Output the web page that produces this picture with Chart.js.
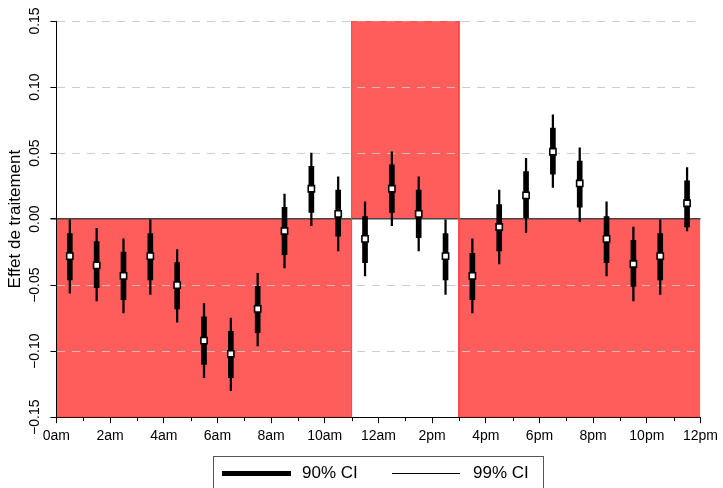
<!DOCTYPE html>
<html>
<head>
<meta charset="utf-8">
<script src="https://cdn.jsdelivr.net/npm/chart.js@4/dist/chart.umd.min.js"></script>
<style>
  body { margin: 0; background: #fff; overflow: hidden; font-family: "Liberation Sans", Arial, sans-serif; }
  #wrap { position: relative; width: 723px; height: 488px; }
  #legend { position: absolute; left: 213px; top: 456px; width: 329px; height: 44px; border: 1px solid #555; }
  #legend .line { position: absolute; background: #000; }
  #legend .txt { position: absolute; font-size: 17px; color: #000; line-height: 20px; }
</style>
</head>
<body>
<div id="wrap">
  <canvas id="chart" width="723" height="488"></canvas>
  <div id="legend">
    <div class="line" style="left:8px; top:14px; width:69px; height:5px;"></div>
    <div class="txt" style="left:88px; top:6px;">90% CI</div>
    <div class="line" style="left:178px; top:16px; width:68px; height:1.3px;"></div>
    <div class="txt" style="left:259px; top:6px;">99% CI</div>
  </div>
</div>
<script>
// hour of day (bin centres)
var hours = [0.5, 1.5, 2.5, 3.5, 4.5, 5.5, 6.5, 7.5, 8.5, 9.5, 10.5, 11.5,
             12.5, 13.5, 14.5, 15.5, 16.5, 17.5, 18.5, 19.5, 20.5, 21.5, 22.5, 23.5];

// point estimates
var estimate = [-0.028, -0.035, -0.043, -0.028, -0.050, -0.092, -0.102, -0.068, -0.009, 0.023, 0.004, -0.015,
                0.023, 0.004, -0.028, -0.043, -0.006, 0.018, 0.051, 0.027, -0.015, -0.034, -0.028, 0.012];

// 90% confidence intervals
var ci90Low  = [-0.046, -0.052, -0.061, -0.046, -0.068, -0.110, -0.120, -0.086, -0.027, 0.005, -0.013, -0.033,
                0.005, -0.014, -0.046, -0.061, -0.024, 0.001, 0.034, 0.009, -0.033, -0.051, -0.046, -0.006];
var ci90High = [-0.011, -0.017, -0.025, -0.011, -0.033, -0.074, -0.085, -0.051, 0.009, 0.040, 0.022, 0.002,
                0.041, 0.022, -0.011, -0.026, 0.011, 0.036, 0.069, 0.044, 0.002, -0.016, -0.011, 0.029];

// 99% confidence intervals
var ci99Low  = [-0.056, -0.062, -0.071, -0.057, -0.078, -0.120, -0.130, -0.096, -0.037, -0.005, -0.024, -0.043,
                -0.005, -0.024, -0.057, -0.071, -0.034, -0.010, 0.024, -0.002, -0.043, -0.062, -0.057, -0.009];
var ci99High = [0.000, -0.007, -0.015, 0.000, -0.023, -0.064, -0.075, -0.041, 0.019, 0.050, 0.032, 0.013,
                0.051, 0.032, 0.000, -0.015, 0.022, 0.046, 0.079, 0.054, 0.013, -0.006, 0.000, 0.039];

// expected-sign regions (outline of the shaded area)
var shadeX = [0, 11, 11, 15, 15, 24];
var shadeY = [-0.15, -0.15, 0.15, 0.15, -0.15, -0.15];

var xTickLabels = ['0am', '2am', '4am', '6am', '8am', '10am', '12am', '2pm', '4pm', '6pm', '8pm', '10pm', '12pm'];
var minorHours = [1, 3, 5, 7, 9, 11, 13, 15, 17, 19, 21, 23];

var FONT = '"Liberation Sans", Arial, sans-serif';

function pairs(xs, ys) {
  var out = [];
  for (var i = 0; i < xs.length; i++) out.push({x: xs[i], y: ys[i]});
  return out;
}

function ranges(xs, lo, hi) {
  var out = [];
  for (var i = 0; i < xs.length; i++) out.push({x: xs[i], y: [lo[i], hi[i]]});
  return out;
}

// rotated y tick labels and short minor ticks on the hour axis
var axisExtras = {
  id: 'axisExtras',
  afterDraw: function(chart) {
    var ctx = chart.ctx;
    var y = chart.scales.y, x = chart.scales.x;
    ctx.save();
    ctx.fillStyle = '#000';
    ctx.font = '14px ' + FONT;
    ctx.textAlign = 'center';
    ctx.textBaseline = 'middle';
    y.ticks.forEach(function(t) {
      var py = y.getPixelForValue(t.value);
      var s = Math.abs(t.value).toFixed(2);
      if (t.value < -1e-9) s = '\u2212' + s;
      ctx.save();
      ctx.translate(35, py);
      ctx.rotate(-Math.PI / 2);
      ctx.fillText(s, 0, 0);
      ctx.restore();
    });
    ctx.strokeStyle = '#000';
    ctx.lineWidth = 1;
    minorHours.forEach(function(h) {
      var px = Math.round(x.getPixelForValue(h)) + 0.5;
      ctx.beginPath();
      ctx.moveTo(px, x.top);
      ctx.lineTo(px, x.top + 4);
      ctx.stroke();
    });
    ctx.restore();
  }
};

var ctx = document.getElementById('chart').getContext('2d');

new Chart(ctx, {
  type: 'bar',
  data: {
    datasets: [
      {
        type: 'scatter',
        data: pairs(hours, estimate),
        pointStyle: 'rect',
        pointRadius: 4.4,
        backgroundColor: '#fff',
        borderColor: '#000',
        borderWidth: 1.6,
        order: 0
      },
      {
        type: 'bar',
        data: ranges(hours, ci90Low, ci90High),
        backgroundColor: '#000',
        barThickness: 5,
        grouped: false,
        order: 1
      },
      {
        type: 'bar',
        data: ranges(hours, ci99Low, ci99High),
        backgroundColor: '#000',
        barThickness: 1.6,
        grouped: false,
        order: 2
      },
      {
        type: 'line',
        data: pairs(shadeX, shadeY),
        fill: 'origin',
        backgroundColor: '#ff5c5c',
        borderColor: '#ff4040',
        borderWidth: 1,
        pointRadius: 0,
        tension: 0,
        order: 3
      }
    ]
  },
  options: {
    responsive: false,
    animation: false,
    layout: { padding: { left: 5, top: 21, right: 19, bottom: 38 } },
    plugins: {
      legend: { display: false },
      tooltip: { enabled: false },
      filler: { drawTime: 'beforeDraw' }
    },
    scales: {
      x: {
        type: 'linear',
        min: 0,
        max: 24,
        offset: false,
        grid: { drawOnChartArea: false, offset: false, tickLength: 6, color: '#000' },
        border: { color: '#000', width: 1 },
        ticks: {
          stepSize: 2,
          padding: 5,
          color: '#000',
          font: { size: 14, family: FONT },
          maxRotation: 0,
          autoSkip: false,
          callback: function(v) { return xTickLabels[Math.round(v / 2)]; }
        }
      },
      y: {
        min: -0.15,
        max: 0.15,
        grid: {
          tickLength: 6,
          tickColor: '#000',
          color: function(c) {
            if (!c.tick) return '#ccc';
            return Math.abs(c.tick.value) < 1e-9 ? '#444' : 'rgba(200,200,200,0.9)';
          },
          lineWidth: function(c) {
            return c.tick && Math.abs(c.tick.value) < 1e-9 ? 1.5 : 1;
          }
        },
        border: {
          color: '#000',
          width: 1,
          dash: function(c) {
            if (!c.tick || Math.abs(c.tick.value) < 1e-9) return [];
            return [8, 7];
          }
        },
        ticks: { display: false, stepSize: 0.05 },
        title: {
          display: true,
          text: 'Effet de traitement',
          color: '#000',
          font: { size: 17, family: FONT },
          padding: { top: 0, bottom: 25 }
        }
      }
    }
  },
  plugins: [axisExtras]
});
</script>
</body>
</html>
